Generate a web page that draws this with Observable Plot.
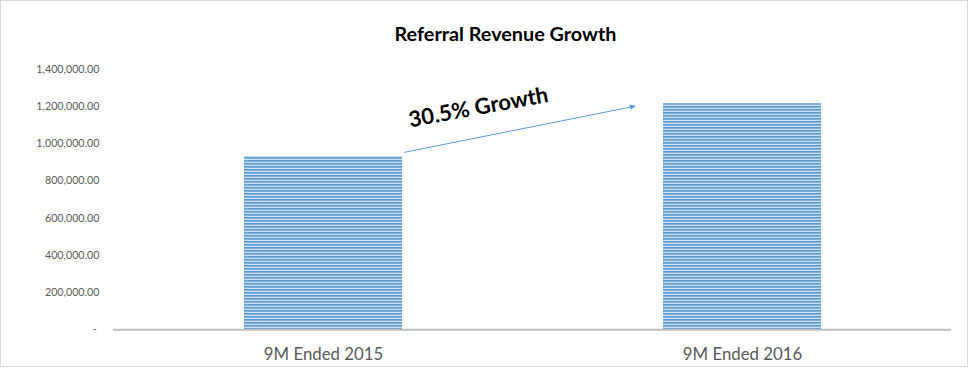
<!DOCTYPE html>
<html>
<head>
<meta charset="utf-8">
<script src="https://cdn.jsdelivr.net/npm/d3@7"></script>
<script src="https://cdn.jsdelivr.net/npm/@observablehq/plot@0.6"></script>
<style>
  html, body { margin: 0; padding: 0; background: #fff; }
  #chart { width: 966px; height: 365px; border: 1px solid #d9d9d9; }
  #chart svg { display: block; }
</style>
</head>
<body>
<div id="chart"></div>
<script>
const categories = ["9M Ended 2015", "9M Ended 2016"];
const revenue = [932000, 1216000];
const yTicks = [0, 200000, 400000, 600000, 800000, 1000000, 1200000, 1400000];
const title = "Referral Revenue Growth";
const growthLabel = "30.5% Growth";

const data = categories.map((c, i) => ({category: c, revenue: revenue[i]}));
const fmt = d3.format(",.2f");
const tickFormat = d => d === 0 ? "-\u00a0" : fmt(d);

const chart = Plot.plot({
  width: 966,
  height: 365,
  marginLeft: 112,
  marginRight: 16,
  marginTop: 68,
  marginBottom: 36.7,
  style: {fontFamily: "Lato, 'Open Sans', sans-serif", background: "white", color: "#595959"},
  x: {domain: categories, paddingInner: 0.623, paddingOuter: 0.3115, label: null},
  y: {domain: [0, 1400000], label: null},
  marks: [
    Plot.axisY({ticks: yTicks, tickSize: 0, tickPadding: 14, tickFormat, fontSize: 10.7, label: null}),
    Plot.axisX({tickSize: 0, tickPadding: 18, fontSize: 16.8, label: null}),
    Plot.barY(data, {x: "category", y: "revenue", fill: "url(#stripes)"}),
    Plot.ruleY([0], {stroke: "#bfbfbf", strokeWidth: 2}),
    Plot.arrow([{x1: categories[0], y1: 867550, x2: categories[1], y2: 1318250}], {
      x1: "x1", y1: "y1", x2: "x2", y2: "y2",
      insetStart: 83, insetEnd: 109.6,
      stroke: "#5b9bd5", strokeWidth: 1, headLength: 8, headAngle: 46
    }),
    Plot.text([{x: categories[0], y: 1195000, label: growthLabel}], {
      x: "x", y: "y", text: "label", dx: 155, rotate: -10.5,
      fontSize: 22, fontWeight: "bold", fill: "black", textAnchor: "middle", lineAnchor: "middle"
    }),
    Plot.text([title], {
      frameAnchor: "top", dx: -27, dy: -35, text: d => d,
      fontSize: 19.8, fontWeight: "bold", fill: "black", lineAnchor: "middle"
    })
  ]
});

// Striped fill pattern for the bars
const ns = "http://www.w3.org/2000/svg";
const defs = document.createElementNS(ns, "defs");
const pat = document.createElementNS(ns, "pattern");
pat.setAttribute("id", "stripes");
pat.setAttribute("patternUnits", "userSpaceOnUse");
pat.setAttribute("width", "6");
pat.setAttribute("height", "3");
const bg = document.createElementNS(ns, "rect");
bg.setAttribute("width", "6"); bg.setAttribute("height", "3"); bg.setAttribute("fill", "#cfe0f2");
const st = document.createElementNS(ns, "rect");
st.setAttribute("width", "6"); st.setAttribute("height", "1.7"); st.setAttribute("fill", "#5b9bd5");
pat.appendChild(bg); pat.appendChild(st);
defs.appendChild(pat);
chart.insertBefore(defs, chart.firstChild);

// Filled arrowhead
const arrowPath = chart.querySelector('g[aria-label="arrow"] path');
if (arrowPath) arrowPath.setAttribute("fill", "#5b9bd5");

document.getElementById("chart").appendChild(chart);
</script>
</body>
</html>
